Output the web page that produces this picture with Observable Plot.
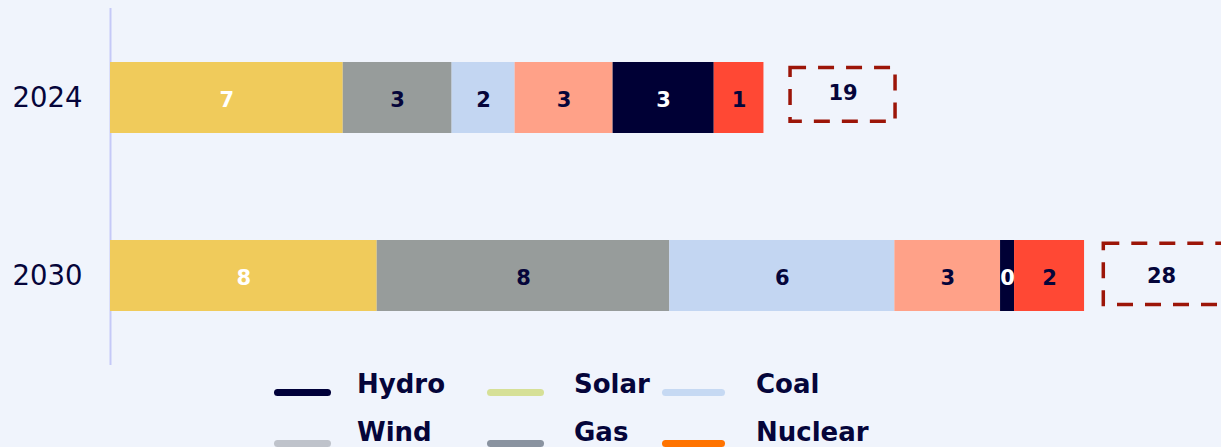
<!DOCTYPE html>
<html><head><meta charset="utf-8">
<script src="https://cdn.jsdelivr.net/npm/d3@7"></script>
<script src="https://cdn.jsdelivr.net/npm/@observablehq/plot@0.6"></script>
<style>
html,body{margin:0;padding:0;background:#F0F4FC;overflow:hidden;}
#chart{width:1221px;height:366px;}
#legend{position:relative;width:1221px;height:81px;font-family:"DejaVu Sans",Verdana,sans-serif;font-weight:bold;font-size:26px;color:#05053A;}
.sw{position:absolute;height:7px;border-radius:3.5px;}
.lt{position:absolute;line-height:26px;white-space:nowrap;}
</style></head><body><div id="chart"></div><div id="legend"></div>
<script>
// ---- data ----
const years = ["2024", "2030"];
const categories = ["Solar", "Gas", "Coal", "Wind", "Hydro", "Nuclear"];
const values2024 = [6.65, 3.11, 1.80, 2.80, 2.89, 1.42];
const values2030 = [7.62, 8.36, 6.43, 3.02, 0.40, 2.00];
const legendNames = ["Hydro", "Solar", "Coal", "Wind", "Gas", "Nuclear"];

// ---- styles ----
const barColors = ["#F0CB5B", "#979C9B", "#C3D6F2", "#FFA188", "#000035", "#FF4834"];
const whiteLabel = new Set(["Solar", "Hydro"]);
const legendColors = {Hydro: "#00003A", Solar: "#D6E097", Coal: "#C6D9F3", Wind: "#BFC3CB", Gas: "#8A93A0", Nuclear: "#FF7300"};
const navy = "#05053A";
const boxStyle = {
  "2024": {gap: 0.76, width: 3.0, textOffset: 2.26, insetTop: 5.4, insetBottom: 11.8, dy: -5},
  "2030": {gap: 0.55, width: 3.55, textOffset: 2.2, insetTop: 3.3, insetBottom: 6.5, dy: 0}
};

const series = {"2024": values2024, "2030": values2030};
const rows = years.flatMap(y => categories.map((c, i) => ({year: y, category: c, value: series[y][i]})));
const totals = years.map(y => ({year: y, total: d3.sum(series[y])}));

const font = "'DejaVu Sans', Verdana, sans-serif";
const labelOpts = (white) => Plot.stackX({x: "value", y: "year", z: "category", order: null,
  text: d => (whiteLabel.has(d.category) === white ? String(Math.round(d.value)) : null),
  fill: white ? "white" : navy, fontWeight: "bold", fontSize: 21, dy: 2});
const marks = [
  Plot.ruleX([0], {stroke: "#C5C9F7", strokeWidth: 2}),
  Plot.barX(rows, Plot.stackX({x: "value", y: "year", fill: "category", order: null})),
  Plot.text(rows, labelOpts(true)),
  Plot.text(rows, labelOpts(false))
];
for (const y of years) {
  const s = boxStyle[y];
  const t = totals.filter(d => d.year === y);
  marks.push(Plot.barX(t, {x1: d => d.total + s.gap, x2: d => d.total + s.gap + s.width, y: "year",
    fill: "none", stroke: "#9C1508", strokeWidth: 3.5, strokeDasharray: "16,12",
    insetTop: s.insetTop, insetBottom: s.insetBottom}));
  marks.push(Plot.text(t, {x: d => d.total + s.textOffset, y: "year", text: d => Math.round(d.total),
    fill: navy, fontWeight: "bold", fontSize: 21, dy: s.dy}));
}

const chart = Plot.plot({
  width: 1221, height: 366,
  marginLeft: 110, marginRight: 0, marginTop: 8, marginBottom: 1,
  x: {domain: [0, 1111 / 35], axis: null},
  y: {domain: years, paddingInner: 0.6, paddingOuter: 0.3, label: null, tickSize: 0, tickPadding: 28},
  color: {domain: categories, range: barColors},
  style: {background: "transparent", fontFamily: font, fontSize: "27.5px", color: navy, overflow: "hidden"},
  marks
});
document.getElementById("chart").appendChild(chart);

// ---- legend ----
const legendLayout = [
  {swL: 274, swW: 57, txL: 357},
  {swL: 487, swW: 57, txL: 574},
  {swL: 662, swW: 63, txL: 756}
];
const rowText = [4.5, 53];
const rowSw = [26, 77];
const lg = document.getElementById("legend");
legendNames.forEach((name, i) => {
  const col = legendLayout[i % 3], row = Math.floor(i / 3);
  const sw = document.createElement("div");
  sw.className = "sw";
  sw.style.left = col.swL + "px"; sw.style.width = col.swW + "px";
  sw.style.top = (rowSw[row] - 3.5) + "px";
  sw.style.background = legendColors[name];
  lg.appendChild(sw);
  const tx = document.createElement("div");
  tx.className = "lt";
  tx.style.left = col.txL + "px"; tx.style.top = rowText[row] + "px";
  tx.textContent = name;
  lg.appendChild(tx);
});
</script>
</body></html>
